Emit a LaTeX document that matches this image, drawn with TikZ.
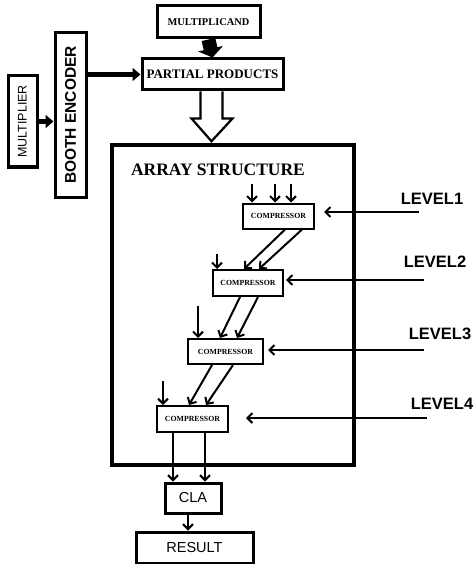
\documentclass[tikz,border=0pt]{standalone}
\usepackage{fontspec}
\setmainfont{Liberation Serif}
\setsansfont{Liberation Sans}
\usetikzlibrary{arrows.meta,positioning,calc}

\begin{document}
\begin{tikzpicture}[
  x=1pt,y=-1pt,
  box/.style={draw,line width=3pt,inner sep=0pt,align=center},
  cmp/.style={draw,line width=2pt,inner sep=0pt,font=\bfseries\fontsize{7.8}{8}\selectfont},
  lvl/.style={font=\sffamily\bfseries\fontsize{16.5}{17}\selectfont},
  arr/.style={-{Straight Barb[length=5pt,width=10pt]},line width=2pt},
  fat/.style={-{Triangle[length=8pt,width=13pt]},line width=5pt}
]
\useasboundingbox (0,0) rectangle (475,564);

\node[box,minimum width=103pt,minimum height=32pt,font=\bfseries\fontsize{10.4}{11}\selectfont] (mcand) at (208.5,22) {MULTIPLICAND};
\node[box,minimum width=141pt,minimum height=31pt,font=\bfseries\fontsize{13}{14}\selectfont] (pp) at (212.5,74.5) {PARTIAL PRODUCTS};
\node[box,rotate=90,minimum width=164pt,minimum height=31pt,font=\sffamily\bfseries\fontsize{15.5}{16}\selectfont] (booth) at (70.5,115) {BOOTH ENCODER};
\node[box,rotate=90,minimum width=91pt,minimum height=29pt,font=\sffamily\fontsize{12.5}{13}\selectfont] (mult) at (22.5,121.5) {MULTIPLIER};
\node[box,line width=3.5pt,minimum width=242pt,minimum height=320pt] (array) at (233,305) {};
\node[font=\bfseries\fontsize{17.5}{18}\selectfont] (title) at (218,170) {ARRAY STRUCTURE};

\node[cmp,minimum width=71pt,minimum height=25pt] (c1) at (278.5,216) {COMPRESSOR};
\node[cmp,minimum width=70pt,minimum height=26pt] (c2) at (248,283) {COMPRESSOR};
\node[cmp,minimum width=75pt,minimum height=25pt] (c3) at (225.5,351.5) {COMPRESSOR};
\node[cmp,minimum width=71pt,minimum height=26pt] (c4) at (192.5,419) {COMPRESSOR};
\node[box,minimum width=56pt,minimum height=30pt,font=\sffamily\fontsize{14.5}{15}\selectfont] (cla) at (193,498) {CLA};
\node[box,minimum width=117pt,minimum height=31pt,font=\sffamily\fontsize{14.5}{15}\selectfont] (res) at (194.5,547.5) {RESULT};

\node[lvl] (lab1) at (432,199) {LEVEL1};
\node[lvl] (lab2) at (435,262) {LEVEL2};
\node[lvl] (lab3) at (440,334) {LEVEL3};
\node[lvl] (lab4) at (442,404) {LEVEL4};
\coordinate (l1) at (419,212);
\coordinate (l2) at (424,280);
\coordinate (l3) at (424,350);
\coordinate (l4) at (427,418);

% inputs
\draw[fat] (mult.south) -- (mult.south -| booth.north);
\draw[fat] (booth.south |- pp.west) -- (pp.west);
\draw[-{Triangle[length=9pt,width=25pt]},line width=14pt] (mcand.south) -- (pp.north);
\draw[line width=2.2pt,fill=white] ($(pp.south)+(-12,0)$) -- ++(0,27) -- ++(-9,0)
  -- ($(pp.south |- array.north)+(-1,-2)$) -- ($(pp.south)+(20,27)$) -- ++(-10,0) -- ($(pp.south)+(10,0)$);

% compressor tree
\draw[arr] ($(c1.north)+(-26.5,-19)$) -- ([xshift=-26.5pt]c1.north);
\draw[arr] ($(c1.north)+(-3.5,-19)$) -- ([xshift=-3.5pt]c1.north);
\draw[arr] ($(c1.north)+(12.5,-19)$) -- ([xshift=12.5pt]c1.north);
\draw[arr] ($(c2.north)+(-31,-15)$) -- ([xshift=-31pt]c2.north);
\draw[arr] ([xshift=6.5pt]c1.south) -- ([xshift=-4pt]c2.north);
\draw[arr] ([xshift=23.5pt]c1.south) -- ([xshift=11pt]c2.north);
\draw[arr] ($(c3.north)+(-27.5,-32)$) -- ([xshift=-27.5pt]c3.north);
\draw[arr] ([xshift=-8pt]c2.south) -- ([xshift=-5.5pt]c3.north);
\draw[arr] ([xshift=10pt]c2.south) -- ([xshift=11.5pt]c3.north);
\draw[arr] ($(c4.north)+(-29.5,-24)$) -- ([xshift=-29.5pt]c4.north);
\draw[arr] ([xshift=-13.5pt]c3.south) -- ([xshift=-3.5pt]c4.north);
\draw[arr] ([xshift=7.5pt]c3.south) -- ([xshift=13.5pt]c4.north);
\draw[arr] ([xshift=-19.5pt]c4.south) -- ([xshift=-19.5pt]c4.south |- cla.north);
\draw[arr] ([xshift=12.5pt]c4.south) -- ([xshift=12.5pt]c4.south |- cla.north);
\draw[arr] ([xshift=-5pt]cla.south) -- ([xshift=-5pt]cla.south |- res.north);

% levels
\draw[arr] (l1) -- ($(c1.east |- l1)+(9,0)$);
\draw[arr] (l2) -- ($(c2.east |- l2)+(2,0)$);
\draw[arr] (l3) -- ($(c3.east |- l3)+(4,0)$);
\draw[arr] (l4) -- ($(c4.east |- l4)+(17,0)$);
\end{tikzpicture}
\end{document}
